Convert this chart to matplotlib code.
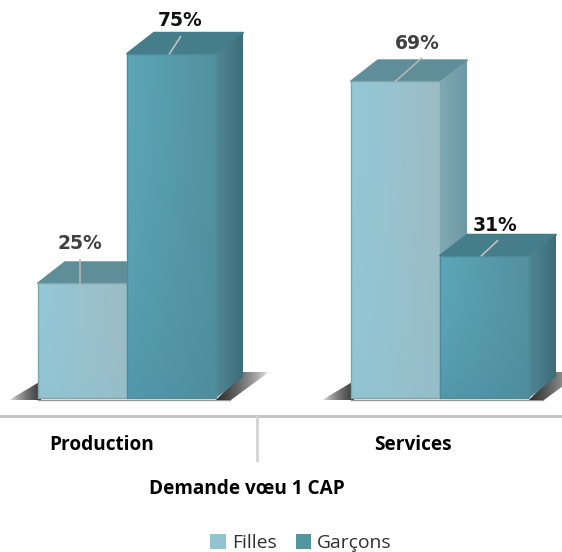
import matplotlib
matplotlib.use("Agg")
import matplotlib.pyplot as plt
import numpy as np
from matplotlib.patches import Patch, Polygon

categories = ["Production", "Services"]
series_names = ["Filles", "Garçons"]
filles = [25, 69]
garcons = [75, 31]
filles_labels = ["25%", "69%"]
garcons_labels = ["75%", "31%"]

W, H = 562, 552
PX_X = 313.0   # pixels per category
PX_Y = 4.59    # pixels per percent
BASE_Y = 398
CENTER_X = 127
BAR_W = 89 / PX_X
DX = 27 / PX_X
DY = 21 / PX_Y

plt.rcParams["font.family"] = ["Open Sans", "DejaVu Sans"]
fig = plt.figure(figsize=(W / 100, H / 100), dpi=100)
ax = fig.add_axes([0, 0, 1, 1])
ax.axis("off")
xlim = (-CENTER_X / PX_X, (W - CENTER_X) / PX_X)
ylim = ((BASE_Y - H) / PX_Y, BASE_Y / PX_Y)


def px(x):
    return x / PX_X + xlim[0]


def py(y):
    return (BASE_Y - y) / PX_Y


def gradient(points, c_left, c_right, z, c_bottom=None):
    # image clipped on a polygon, colours go left to right
    xs = [p[0] for p in points]
    ys = [p[1] for p in points]
    a = np.array(matplotlib.colors.to_rgb(c_left))
    b = np.array(matplotlib.colors.to_rgb(c_right))
    t = np.linspace(0, 1, 64)[None, :, None]
    img = np.repeat(a[None, None, :] * (1 - t) + b[None, None, :] * t, 64, axis=0)
    if c_bottom is not None:
        c = np.array(matplotlib.colors.to_rgb(c_bottom))
        v = (np.linspace(0, 1, 64) ** 2 * 0.5)[:, None, None]
        img = img * (1 - v) + c[None, None, :] * v
    im = ax.imshow(img, extent=(min(xs), max(xs), min(ys), max(ys)), origin="upper",
                   aspect="auto", zorder=z, interpolation="bilinear")
    clip = Polygon(points, closed=True, transform=ax.transData)
    im.set_clip_path(clip)
    return im


def shadow(points, left_alpha, right_alpha, z):
    xs = [p[0] for p in points]
    ys = [p[1] for p in points]
    img = np.zeros((2, 64, 4))
    img[:, :, :3] = 0.15
    img[:, :, 3] = np.linspace(left_alpha, right_alpha, 64) ** 0.6
    im = ax.imshow(img, extent=(min(xs), max(xs), min(ys), max(ys)), aspect="auto",
                   zorder=z, interpolation="bilinear")
    im.set_clip_path(Polygon(points, closed=True, transform=ax.transData))


def bar3d(x0, val, face, side, top, edge, z):
    bar = ax.bar(x0, val, width=BAR_W, align="edge", color="none", zorder=z + 0.3,
                 edgecolor=edge, linewidth=1.0)[0]
    bar.set_joinstyle("round")
    x1 = x0 + BAR_W
    gradient([(x0, 0), (x1, 0), (x1, val), (x0, val)], face[0], face[1], z + 0.2, face[2])
    gradient([(x1, 0), (x1 + DX, DY), (x1 + DX, val + DY), (x1, val)], side[0], side[1], z + 0.1)
    ax.add_patch(Polygon([(x0, val), (x1, val), (x1 + DX, val + DY), (x0 + DX, val + DY)],
                         closed=True, facecolor=top, edgecolor=top, linewidth=1.4,
                         joinstyle="round", zorder=z))
    return bar


FILLES_STYLE = dict(face=("#93c8d8", "#9dbcc4", "#8fc0cc"), side=("#7fa9b3", "#6e98a3"),
                    top="#5f8d98", edge="#7fa5ae")
GARCONS_STYLE = dict(face=("#5ca6b9", "#53919f", "#4a8a9c"), side=("#4f8794", "#3f6c79"),
                     top="#457d8a", edge="#4e8a98")

# leaders: start offset and end offset from the middle of the front top edge, in pixels
FILLES_LEAD = [((-3, 0), (-3, 23)), ((0, 0), (26, 23))]
GARCONS_LEAD = [((-2, 0), (9, 17)), ((-3, 0), (13, 15))]
FILLES_TEXT = [(-3, 40), (22, 38)]
GARCONS_TEXT = [(9, 33), (11, 30)]

for i, cat in enumerate(categories):
    x_left = i - BAR_W
    x_right = i + BAR_W
    # ombres au pied des barres
    shadow([(x_left - 29 / PX_X, py(400)), (x_left + 0.01, py(400)), (x_left + 0.01, py(381))],
           0.0, 0.9, 1)
    shadow([(x_right, py(400)), (x_right + 15 / PX_X, py(400)),
            (x_right + 53 / PX_X, py(372)), (x_right + DX, py(372))], 0.95, 0.0, 1)
    ax.plot([x_left, x_right + 14 / PX_X], [py(399.5)] * 2, color="#9a9a9a", lw=1, zorder=0.5)

    bar3d(x_left, filles[i], z=2, **FILLES_STYLE)
    bar3d(i, garcons[i], z=3, **GARCONS_STYLE)

    # traits de rappel et etiquettes
    fx = x_left + BAR_W / 2
    gx = i + BAR_W / 2
    (x_a, y_a), (x_b, y_b) = FILLES_LEAD[i]
    ax.plot([fx + x_a / PX_X, fx + x_b / PX_X], [filles[i] + y_a / PX_Y, filles[i] + y_b / PX_Y],
            color="#b5b5b5", lw=1.2, zorder=5)
    (x_a, y_a), (x_b, y_b) = GARCONS_LEAD[i]
    ax.plot([gx + x_a / PX_X, gx + x_b / PX_X], [garcons[i] + y_a / PX_Y, garcons[i] + y_b / PX_Y],
            color="#c0c0c0", lw=1.2, zorder=5)
    ax.text(fx + FILLES_TEXT[i][0] / PX_X, filles[i] + FILLES_TEXT[i][1] / PX_Y,
            filles_labels[i], ha="center", va="center", fontsize=13.5, fontweight="bold",
            family=["DejaVu Sans"], color="#404040", zorder=6)
    ax.text(gx + GARCONS_TEXT[i][0] / PX_X, garcons[i] + GARCONS_TEXT[i][1] / PX_Y,
            garcons_labels[i], ha="center", va="center", fontsize=13.5, fontweight="bold",
            family=["DejaVu Sans"], color="#111111", zorder=6)

# axe des categories, dessine a la main sous les barres
ax.plot(xlim, [py(416)] * 2, color="#c2c2c2", lw=2, zorder=1)
ax.plot([px(257)] * 2, [py(417), py(460)], color="#d4d4d4", lw=2, zorder=1)
for i, cat in enumerate(categories):
    ax.text(px(102 if i == 0 else 413), py(445), cat, ha="center", va="center",
            fontsize=13.7, fontweight="bold", color="black")
ax.text(px(247), py(489), "Demande vœu 1 CAP", ha="center", va="center",
        fontsize=13.7, fontweight="bold", color="black")

handles = [Patch(facecolor="#93c3cf", label=series_names[0]),
           Patch(facecolor="#53969f", label=series_names[1])]
fig.legend(handles=handles, loc="center", bbox_to_anchor=(301 / W, 1 - 543 / H), ncol=2,
           frameon=False, fontsize=13.9, handlelength=0.8, handleheight=0.8,
           handletextpad=0.3, columnspacing=1.0, labelcolor="#303030", borderpad=0)

ax.set_xlim(xlim)
ax.set_ylim(ylim)
fig.savefig("out.png", dpi=100)
